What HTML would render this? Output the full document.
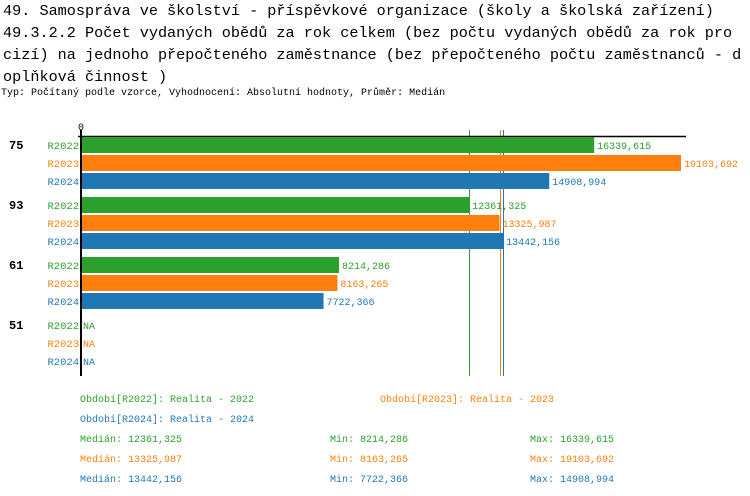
<!DOCTYPE html>
<html><head><meta charset="utf-8"><style>
body{margin:0;width:750px;height:496px;background:#fff;overflow:hidden;font-family:"Liberation Mono","DejaVu Sans Mono",monospace}
.t{position:absolute;left:3px;font-size:15.2px;white-space:pre;color:#000}
</style></head><body>
<div class="t" style="top:0;line-height:22px">49. Samospráva ve školství - příspěvkové organizace (školy a školská zařízení)
49.3.2.2 Počet vydaných obědů za rok celkem (bez počtu vydaných obědů za rok pro
cizí) na jednoho přepočteného zaměstnance (bez přepočteného počtu zaměstnanců - d
oplňková činnost )</div>
<div style="position:absolute;left:1px;top:88px;font-size:10px;white-space:pre">Typ: Počítaný podle vzorce, Vyhodnocení: Absolutní hodnoty, Průměr: Medián</div>
<svg id="c" width="750" height="496" style="position:absolute;left:0;top:0" font-family="Liberation Mono, monospace"></svg>
<script>
const groups=["75","93","61","51"];
const seriesNames=["R2022","R2023","R2024"];
const colors=["#2ca02c","#ff7f0e","#1f77b4"];
const values=[[16339.615,19103.692,14908.994],[12361.325,13325.987,13442.156],[8214.286,8163.265,7722.366],[null,null,null]];
const labels=[["16339,615","19103,692","14908,994"],["12361,325","13325,987","13442,156"],["8214,286","8163,265","7722,366"],["NA","NA","NA"]];
const medians=[12361.325,13325.987,13442.156];
const maxV=19103.692;
const x=v=>81+v*600/maxV;
const y=(g,s)=>137+g*60+s*18;
const svg=document.getElementById('c');
const NS="http://www.w3.org/2000/svg";
function mk(t,a,txt){const e=document.createElementNS(NS,t);for(const k in a)e.setAttribute(k,a[k]);if(txt!=null)e.textContent=txt;svg.appendChild(e);return e;}
let e;
medians.forEach((m,i)=>{
 const xm=Math.round(x(m))+0.5;
 e=mk('line',{x1:xm,y1:130,x2:xm,y2:376,stroke:colors[i],'stroke-width':1});
 
 
});
e=mk('line',{x1:78,y1:136.5,x2:686,y2:136.5,stroke:'#000','stroke-width':1.5});


e=mk('text',{x:81,y:130,'font-size':10,'text-anchor':'middle'},'0');


groups.forEach((g,gi)=>{
 e=mk('text',{x:9,y:y(gi,0)+12,'font-size':12,'font-weight':'bold'},g);
 
 
 seriesNames.forEach((s,si)=>{
  const yy=y(gi,si);
  e=mk('text',{x:79,y:yy+12,'font-size':10.5,'text-anchor':'end',fill:colors[si]},s);
  
  
  const v=values[gi][si];
  let end=83;
  if(v!=null){
   e=mk('rect',{x:81,y:yy,width:x(v)-81,height:16,fill:colors[si]});
   
   
   end=x(v)+3;
  }
  e=mk('text',{x:end,y:yy+12,'font-size':10,fill:colors[si]},labels[gi][si]);
  
  
 });
});
e=mk('line',{x1:81,y1:130,x2:81,y2:376,stroke:'#000','stroke-width':2});


const legend=[[80,402,0,"Období[R2022]: Realita - 2022"],[380,402,1,"Období[R2023]: Realita - 2023"],[80,422,2,"Období[R2024]: Realita - 2024"]];
legend.forEach(l=>{
 e=mk('text',{x:l[0],y:l[1],'font-size':10,fill:colors[l[2]]},l[3]);
 
 
});
const mins=["8214,286","8163,265","7722,366"],maxs=["16339,615","19103,692","14908,994"],meds=["12361,325","13325,987","13442,156"];
for(let i=0;i<3;i++){
 const yy=442+i*20;
 e=mk('text',{x:80,y:yy,'font-size':10,fill:colors[i]},"Medián: "+meds[i]);
 
 
 e=mk('text',{x:330,y:yy,'font-size':10,fill:colors[i]},"Min: "+mins[i]);
 
 
 e=mk('text',{x:530,y:yy,'font-size':10,fill:colors[i]},"Max: "+maxs[i]);
 
 
}
</script>
</body></html>
